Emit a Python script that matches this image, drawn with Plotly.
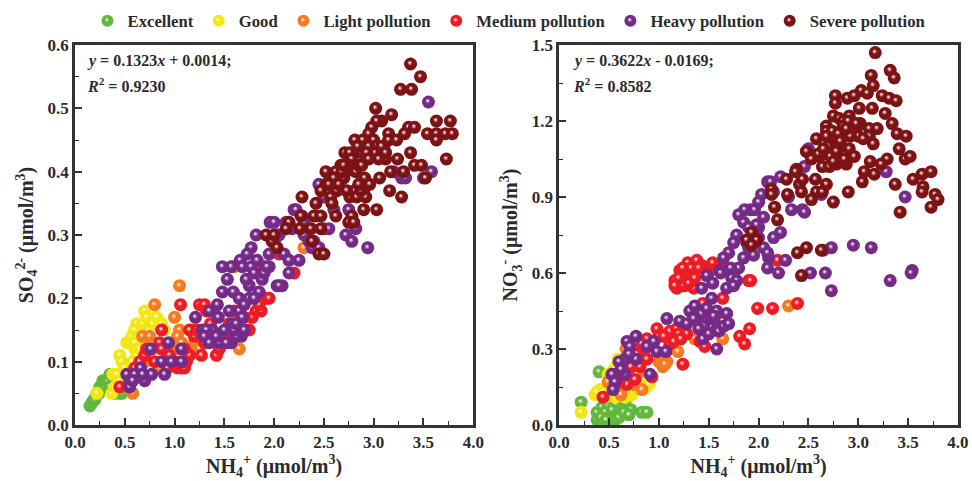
import plotly.graph_objects as go
from plotly.subplots import make_subplots

NAMES = ["Excellent", "Good", "Light pollution", "Medium pollution", "Heavy pollution", "Severe pollution"]
COLORS = ["#62b83c", "#f2e614", "#f47b20", "#ed1c24", "#742a86", "#7d1214"]

# Left panel: NH4+ , SO4 2-
L_EX_X = [.15,.17,.19,.2,.22,.24,.25,.27,.28,.3,.3,.33,.35,.38,.35,.4,.42,.45,.47,.4]
L_EX_Y = [.03,.035,.04,.04,.05,.05,.06,.06,.07,.06,.07,.07,.08,.08,.06,.05,.06,.05,.05,.07]
L_GO_X = [.37,.4,.38,.42,.45,.5,.52,.45,.47,.5,.52,.55,.57,.6,.6,.62,.62,.68,.7,.72,.78,.82,.87,.9,.68,.75,.58,.65,.6,.7,.22]
L_GO_Y = [.05,.06,.08,.08,.07,.08,.075,.11,.1,.09,.13,.13,.14,.12,.13,.11,.16,.16,.18,.17,.16,.17,.16,.15,.14,.12,.1,.12,.15,.13,.05]
L_LI_X = [1.05,.8,1.0,1.05,1.03,.68,.75,.72,.78,1.07,1.2,1.2,1.25,1.0,.58,.65,1.65,.85,1.05,1.58,2.0,2.3,1.6,.95,1.12,.7,1.18]
L_LI_Y = [.22,.19,.17,.15,.14,.14,.14,.12,.12,.13,.14,.13,.12,.12,.05,.08,.12,.09,.12,.25,.29,.28,.25,.12,.12,.1,.15]
L_ME_X = [1.06,.87,.45,.6,.65,.7,.72,.8,.85,.87,.9,.93,.95,1.0,1.03,1.07,1.1,1.12,1.15,1.27,1.42,1.46,1.5,1.25,1.3,1.32,1.35,1.4,1.48,1.2,1.22,1.15,1.1,1.3,1.36,1.55,1.6,1.78,1.82,1.87,1.92,1.95,1.85,2.2,2.05,1.9,1.45,1.7,1.75,1.6]
L_ME_Y = [.19,.15,.06,.09,.1,.11,.12,.1,.13,.12,.1,.09,.11,.1,.09,.09,.09,.1,.11,.11,.11,.13,.14,.19,.19,.18,.15,.14,.14,.14,.15,.15,.12,.13,.16,.16,.15,.17,.18,.18,.2,.2,.19,.24,.27,.25,.12,.17,.15,.18]
L_HE_X = [.52,.55,.55,.63,.66,.7,.77,.9,.76,.94,1.07,.87,.97,1.07,.6,.58,.68,1.21,1.28,1.38,1.35,1.43,1.44,1.55,1.65,1.58,1.67,1.57,1.45,1.68,1.48,1.59,1.53,1.57,1.48,1.66,1.77,1.73,1.68,1.77,1.88,1.75,1.65,1.75,2.03,1.95,1.83,1.95,2.02,1.82,1.96,1.9,1.85,1.62,1.7,1.6,1.8,1.72,1.5,1.42,1.32,1.3,1.35,1.52,1.62,1.7,1.8,1.93,2.0,2.05,2.12,2.18,2.2,2.28,2.3,2.35,2.38,2.25,2.15,2.1,2.03,2.0,2.08,2.22,2.42,2.45,2.5,2.55,2.62,2.6,2.75,2.72,2.78,2.82,2.94,3.2,3.28,3.32,3.5,3.58,3.55,2.5,2.4,2.3,2.15,2.05,2.45,2.55]
L_HE_Y = [.08,.07,.06,.08,.09,.07,.08,.08,.12,.13,.12,.1,.1,.1,.08,.07,.08,.17,.15,.15,.18,.19,.17,.18,.18,.16,.14,.13,.13,.17,.21,.21,.23,.25,.25,.26,.28,.27,.25,.25,.23,.22,.2,.2,.22,.25,.26,.27,.28,.3,.32,.24,.21,.14,.15,.15,.2,.23,.15,.14,.15,.14,.13,.13,.16,.19,.24,.25,.29,.3,.32,.31,.34,.33,.3,.29,.28,.26,.24,.27,.3,.32,.22,.34,.33,.38,.36,.38,.39,.34,.34,.3,.29,.31,.28,.4,.39,.39,.39,.4,.51,.31,.29,.32,.26,.22,.28,.31]
L_SE_X = [3.37,3.47,3.27,3.38,3.02,3.18,3.63,3.77,3.08,3.03,3.35,3.41,2.98,3.54,3.63,3.72,3.79,3.63,3.73,3.31,3.15,2.95,3.0,2.81,2.89,3.15,3.23,3.02,3.1,2.71,2.76,2.88,3.01,3.37,2.78,3.12,3.24,2.67,2.75,3.41,3.48,2.52,2.62,2.82,3.17,3.3,2.91,3.06,3.52,2.52,2.63,2.47,2.57,2.96,2.81,2.9,2.76,2.92,3.16,3.28,2.28,2.42,2.9,3.03,2.27,2.4,2.47,2.62,2.78,2.15,2.75,2.8,2.12,2.26,2.37,2.47,2.38,1.98,1.92,2.0,2.03,2.45,2.5,2.7,2.72,2.85,2.86,2.6,2.65,2.68,2.7,2.95,3.05,3.08,3.12,2.83,2.87,2.93,2.55,2.58,2.73,2.85,2.88,2.84,2.95]
L_SE_Y = [.57,.55,.53,.53,.5,.49,.48,.48,.48,.48,.47,.47,.47,.46,.46,.46,.46,.45,.42,.46,.46,.46,.45,.45,.45,.45,.45,.44,.44,.43,.43,.43,.43,.43,.42,.42,.42,.41,.41,.41,.41,.4,.4,.4,.4,.4,.39,.39,.39,.38,.37,.37,.36,.38,.37,.37,.36,.36,.37,.36,.36,.35,.34,.34,.33,.33,.33,.33,.33,.32,.32,.32,.31,.31,.31,.31,.29,.29,.3,.3,.28,.27,.27,.39,.4,.41,.38,.39,.38,.4,.41,.44,.42,.44,.43,.36,.37,.43,.38,.35,.37,.38,.41,.44,.42]

# Right panel: NH4+ , NO3-
R_EX_X = [.22,.4,.38,.38,.43,.49,.56,.56,.63,.66,.69,.83,.88,.46,.59,.5,.53,.6,.72,.42,.47,.65,.7]
R_EX_Y = [.09,.21,.05,.02,.07,.07,.02,.05,.07,.09,.05,.05,.05,.05,.05,.03,.06,.03,.06,.03,.02,.05,.04]
R_GO_X = [.22,.36,.41,.46,.59,.56,.73,.88,.79,.58,.49,.66,.38,.44,.52,.6,.7,.85,.62,.68,.55,.76,.8,.9,.5]
R_GO_Y = [.05,.12,.14,.11,.26,.11,.12,.15,.17,.24,.2,.11,.13,.13,.17,.2,.19,.15,.16,.15,.22,.14,.2,.16,.12]
R_LI_X = [.62,.83,1.04,1.08,1.19,1.64,1.36,1.16,.49,.78,.67,.72,1.0,1.02,1.06,.56,.6,2.3,1.1,1.5,.75,.95]
R_LI_Y = [.12,.14,.23,.25,.29,.34,.34,.34,.17,.2,.3,.28,.25,.27,.24,.15,.18,.47,.3,.36,.16,.33]
R_ME_X = [.44,1.24,.53,.68,.93,.81,.88,.88,.98,1.11,1.18,1.28,1.11,1.44,1.64,1.18,1.16,1.26,1.34,1.29,1.38,1.43,1.54,1.21,1.81,1.86,1.91,1.9,1.41,1.46,1.99,2.14,2.39,.6,.65,.72,.76,.86,.78,.83,1.0,1.05,1.15,1.2,1.22,1.25,1.3,1.35,1.2,1.27,1.32,1.4,1.5,1.16,1.24,1.3,1.36,1.62,1.75,2.19,1.92]
R_ME_Y = [.11,.24,.2,.16,.19,.23,.26,.34,.38,.37,.38,.36,.32,.48,.5,.54,.57,.55,.6,.64,.65,.63,.64,.61,.35,.32,.38,.57,.33,.31,.46,.46,.48,.17,.2,.23,.18,.3,.28,.32,.35,.35,.33,.36,.34,.55,.57,.54,.58,.6,.62,.62,.6,.55,.62,.56,.58,.62,.6,.65,.57]
R_HE_X = [1.08,1.21,1.28,1.31,1.36,1.43,1.48,1.58,1.68,1.64,1.58,1.44,1.58,1.39,1.45,1.53,1.43,1.48,1.61,1.54,1.73,1.68,1.78,.77,.68,.71,.66,.77,.66,.53,.56,.54,.91,.88,.95,.98,1.07,.6,.62,.7,1.35,1.4,1.52,1.6,1.55,1.5,1.65,1.7,1.75,1.8,1.85,1.9,1.95,2.0,2.05,1.7,1.65,1.62,1.78,1.85,1.92,1.98,2.03,2.09,2.12,2.22,1.86,1.96,2.33,2.44,2.46,2.73,2.95,3.13,3.54,3.53,3.32,2.73,2.67,2.52,2.27,2.2,2.09,2.22,2.15,3.28,3.47,2.63,2.46,2.48,2.5,1.75,1.88,1.95,2.0,2.05,2.1,1.8,1.9,1.72,2.0,2.09,2.15,2.3,2.65]
R_HE_Y = [.42,.41,.4,.45,.47,.44,.46,.45,.44,.41,.38,.34,.3,.41,.39,.5,.54,.59,.61,.56,.58,.54,.57,.35,.33,.31,.26,.26,.2,.2,.17,.14,.2,.31,.33,.29,.29,.25,.22,.28,.42,.38,.42,.37,.43,.36,.39,.4,.55,.62,.66,.7,.72,.78,.82,.68,.66,.6,.75,.8,.85,.79,.91,.96,.96,.98,.85,.85,.85,.85,.84,.7,.71,.7,.61,.6,.57,.53,.6,.6,.65,.6,.62,.76,.74,1.0,.9,.91,1.02,1.08,1.09,.72,.72,.67,.74,.7,.66,.83,.78,.62,.88,.68,.92,.9,.69]
R_SE_X = [3.17,3.32,3.36,3.13,3.15,3.03,3.09,2.77,2.77,2.89,2.96,3.24,3.31,3.38,3.01,3.14,3.27,2.75,2.81,2.91,3.02,3.34,2.68,2.68,2.74,2.85,2.98,3.11,3.19,3.11,3.15,3.39,3.48,2.58,2.68,2.78,2.48,2.53,2.61,2.74,2.83,2.91,2.96,2.64,2.71,2.78,2.88,3.12,3.29,3.23,3.41,3.47,3.52,3.06,3.16,3.04,3.37,3.55,3.64,3.73,3.65,3.64,3.77,3.8,3.73,3.42,2.9,2.75,2.53,2.58,2.64,2.68,2.57,2.41,2.44,2.43,2.28,2.38,2.37,2.29,2.13,2.13,2.16,2.19,1.93,1.98,1.88,1.93,2.39,2.48,2.63,2.43,2.8,2.85,2.9,2.95,3.0,2.7,2.72,2.78,2.86,2.6,2.65,2.82,2.92,2.98,3.05,2.75,2.88]
R_SE_Y = [1.47,1.40,1.37,1.38,1.34,1.32,1.31,1.30,1.27,1.29,1.30,1.30,1.29,1.28,1.25,1.25,1.23,1.22,1.21,1.22,1.19,1.19,1.18,1.16,1.16,1.2,1.17,1.17,1.17,1.14,1.11,1.15,1.14,1.13,1.14,1.13,1.08,1.05,1.06,1.08,1.1,1.09,1.06,1.02,1.02,1.03,1.03,1.04,1.05,1.03,1.09,1.05,1.06,1.0,.99,.96,.95,.97,.99,1.0,.94,.92,.91,.89,.86,.84,.92,.88,.89,.92,.92,.95,.97,.95,.97,.92,.97,1.01,1.0,.91,.93,.91,.86,.81,.76,.73,.73,.71,.68,.70,.69,.59,1.15,1.18,1.2,1.17,1.14,1.1,1.06,1.08,1.05,1.07,1.09,1.12,1.14,1.19,1.13,1.04,1.17]

LEFT = [(L_EX_X,L_EX_Y),(L_GO_X,L_GO_Y),(L_LI_X,L_LI_Y),(L_ME_X,L_ME_Y),(L_HE_X,L_HE_Y),(L_SE_X,L_SE_Y)]
RIGHT = [(R_EX_X,R_EX_Y),(R_GO_X,R_GO_Y),(R_LI_X,R_LI_Y),(R_ME_X,R_ME_Y),(R_HE_X,R_HE_Y),(R_SE_X,R_SE_Y)]

FONT = "Liberation Serif"
INK = "#2b2b2b"
fig = make_subplots(rows=1, cols=2)
for i, name in enumerate(NAMES):
    for col, data in ((1, LEFT), (2, RIGHT)):
        fig.add_trace(go.Scatter(
            x=data[i][0], y=data[i][1], mode="markers", name=name,
            legendgroup=name, showlegend=col == 1, cliponaxis=False,
            marker=dict(size=13, color=COLORS[i], line_width=0,
                        gradient=dict(type="radial", color="#ffffff")),
        ), row=1, col=col)

W, H = 972, 481
ML, MR, MT, MB = 74.5, 14, 45, 56
PW, PH = W - ML - MR, H - MT - MB
fig.layout.xaxis.domain = (0, 398.5 / PW)
fig.layout.xaxis2.domain = ((559 - ML) / PW, 1)
fig.layout.yaxis.domain = (0, 1)
fig.layout.yaxis2.domain = (0, 1)
common = dict(showline=True, linecolor="#333333", linewidth=2.5, mirror=True, ticks="inside", automargin=False,
              ticklen=7, tickwidth=1.5, tickcolor="#333333", showgrid=False, zeroline=False,
              tickfont=dict(family=FONT, size=17, color=INK, weight="bold"),
              minor=dict(ticks="inside", ticklen=4, tickwidth=1.2, tickcolor="#333333", showgrid=False))
TF = dict(family=FONT, size=20, color=INK, weight="bold")
xtitle = "NH<sub>4</sub><sup>+</sup> (μmol/m<sup>3</sup>)"
for n in (1, 2):
    fig.update_xaxes(range=[0, 4], tickvals=[0,.5,1,1.5,2,2.5,3,3.5,4],
                     ticktext=["0.0","0.5","1.0","1.5","2.0","2.5","3.0","3.5","4.0"],
                     minor_dtick=.25, minor_tick0=0,
                     title=dict(text=xtitle, standoff=7, font=TF),
                     row=1, col=n, **common)
fig.update_yaxes(range=[0, .6], tickvals=[0,.1,.2,.3,.4,.5,.6],
                 ticktext=["0.0","0.1","0.2","0.3","0.4","0.5","0.6"], minor_dtick=.05, minor_tick0=0,
                 title=dict(text="SO<sub>4</sub><sup>2-</sup> (μmol/m<sup>3</sup>)", standoff=9, font=TF),
                 row=1, col=1, **common)
fig.update_yaxes(range=[0, 1.5], tickvals=[0,.3,.6,.9,1.2,1.5],
                 ticktext=["0.0","0.3","0.6","0.9","1.2","1.5"], minor_dtick=.15, minor_tick0=0,
                 title=dict(text="NO<sub>3</sub><sup>-</sup> (μmol/m<sup>3</sup>)", standoff=9, font=TF),
                 row=1, col=2, **common)

notes = [(85, "<i>y</i> = 0.1323<i>x</i> + 0.0014;", 61), (85, "<i>R</i><sup>2</sup> = 0.9230", 85),
         (571, "<i>y</i> = 0.3622<i>x</i> - 0.0169;", 61), (571, "<i>R</i><sup>2</sup> = 0.8582", 85)]
for px, t, py in notes:
    fig.add_annotation(x=(px - ML) / PW, y=1 - (py - MT) / PH, xref="paper", yref="paper",
                       text=f"<b>{t}</b>", showarrow=False,
                       xanchor="left", yanchor="middle", font=dict(family=FONT, size=16, color=INK))

fig.update_layout(
    width=W, height=H, margin=dict(l=ML, r=MR, t=MT, b=MB), paper_bgcolor="white", plot_bgcolor="white",
    font=dict(family=FONT, color=INK),
    legend=dict(orientation="h", xref="container", yref="container", x=509.5 / W, xanchor="center",
                y=1 - 21 / H, yanchor="middle",
                font=dict(family=FONT, size=16.7, weight="bold", color=INK), itemsizing="constant",
                bgcolor="rgba(0,0,0,0)", traceorder="normal", itemclick=False, itemdoubleclick=False),
)

POST = """
document.body.style.margin='0';
function gloss(){document.querySelectorAll('radialGradient').forEach(function(g){
 g.setAttribute('fx','0.42');g.setAttribute('fy','0.38');
 var s=g.querySelectorAll('stop');if(s.length==2&&!g.dataset.done){var m=s[1].cloneNode();m.setAttribute('offset','40%');
 g.insertBefore(m,s[1]);g.dataset.done='1';}
});}
gloss();var gd=document.querySelector('.plotly-graph-div');gd.on('plotly_afterplot',gloss);
"""
fig.write_html("out.html", post_script=POST, config={"displayModeBar": False})
